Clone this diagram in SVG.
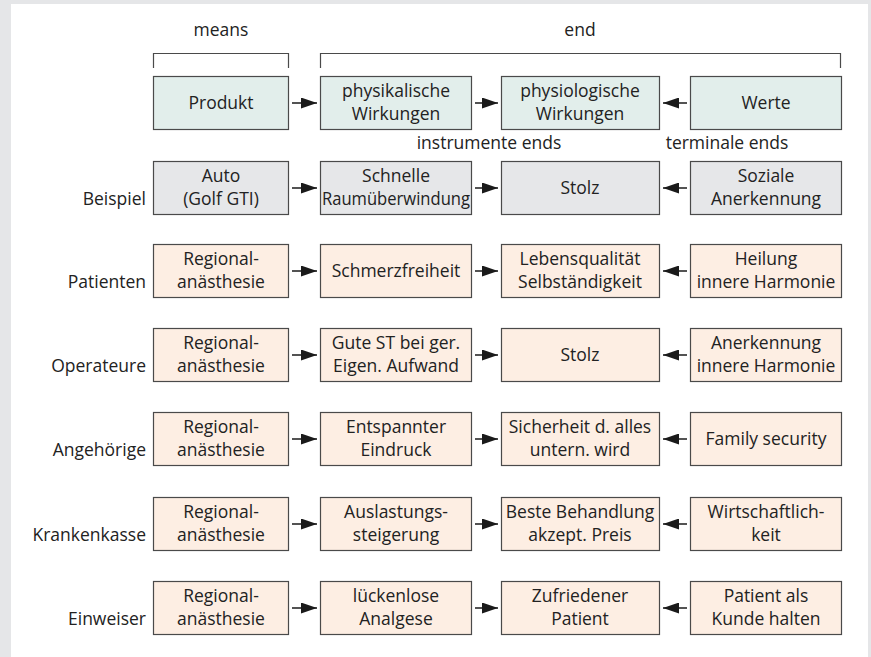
<svg xmlns="http://www.w3.org/2000/svg" width="871" height="657" viewBox="0 0 871 657">
<defs>
<marker id="ah" markerUnits="userSpaceOnUse" markerWidth="16" markerHeight="11" refX="16" refY="5.5" orient="auto">
<path d="M0,0 L16,5.5 L0,11 z" fill="#1a1a1a"/>
</marker>
</defs>
<style>
text{font-family:"Open Sans","Noto Sans","DejaVu Sans",sans-serif;font-size:17.5px;fill:#222222}
.c{text-anchor:middle}
.l{text-anchor:end}
.b rect{stroke:#4a4a4a;stroke-width:1.2}
.t rect{fill:#e2eeeb}
.g rect{fill:#e6e7e9}
.p rect{fill:#fdeee3}
.cn line{stroke:#1a1a1a;stroke-width:1.5;marker-end:url(#ah)}
.br{fill:none;stroke:#4a4a4a;stroke-width:1.2}
</style>
<rect x="0" y="0" width="871" height="657" fill="#e5e6e8"/>
<rect x="11" y="4" width="857" height="653" fill="#ffffff"/>

<g id="headers">
<text class="c" x="221" y="36">means</text>
<text class="c" x="580" y="36">end</text>
<path class="br" d="M153.5,68 V53.5 H288.5 V68"/>
<path class="br" d="M320.5,68 V53.5 H840.5 V68"/>
<text class="c" x="489" y="149">instrumente ends</text>
<text class="c" x="727" y="149">terminale ends</text>
</g>

<g id="row-labels">
<text class="l" x="146" y="205">Beispiel</text>
<text class="l" x="146" y="288">Patienten</text>
<text class="l" x="146" y="372">Operateure</text>
<text class="l" x="146" y="456">Angehörige</text>
<text class="l" x="146" y="541">Krankenkasse</text>
<text class="l" x="146" y="625">Einweiser</text>
</g>

<!-- Row 1 -->
<g id="r1c1" class="b t"><rect x="153.5" y="76.5" width="135" height="53"/><text class="c" x="221" y="109">Produkt</text></g>
<g id="r1c2" class="b t"><rect x="320.5" y="76.5" width="151" height="53"/><text class="c" x="396" y="97">physikalische</text><text class="c" x="396" y="120">Wirkungen</text></g>
<g id="r1c3" class="b t"><rect x="501.5" y="76.5" width="158" height="53"/><text class="c" x="580" y="97">physiologische</text><text class="c" x="580" y="120">Wirkungen</text></g>
<g id="r1c4" class="b t"><rect x="690.5" y="76.5" width="151" height="53"/><text class="c" x="766" y="109">Werte</text></g>

<!-- Row 2 -->
<g id="r2c1" class="b g"><rect x="153.5" y="161.5" width="135" height="53"/><text class="c" x="221" y="182">Auto</text><text class="c" x="221" y="205">(Golf GTI)</text></g>
<g id="r2c2" class="b g"><rect x="320.5" y="161.5" width="151" height="53"/><text class="c" x="396" y="182">Schnelle</text><text class="c" x="396" y="205" textLength="148" lengthAdjust="spacingAndGlyphs">Raumüberwindung</text></g>
<g id="r2c3" class="b g"><rect x="501.5" y="161.5" width="158" height="53"/><text class="c" x="580" y="194">Stolz</text></g>
<g id="r2c4" class="b g"><rect x="690.5" y="161.5" width="151" height="53"/><text class="c" x="766" y="182">Soziale</text><text class="c" x="766" y="205">Anerkennung</text></g>

<!-- Row 3 -->
<g id="r3c1" class="b p"><rect x="153.5" y="244.5" width="135" height="53"/><text class="c" x="221" y="265">Regional-</text><text class="c" x="221" y="288">anästhesie</text></g>
<g id="r3c2" class="b p"><rect x="320.5" y="244.5" width="151" height="53"/><text class="c" x="396" y="277">Schmerzfreiheit</text></g>
<g id="r3c3" class="b p"><rect x="501.5" y="244.5" width="158" height="53"/><text class="c" x="580" y="265">Lebensqualität</text><text class="c" x="580" y="288">Selbständigkeit</text></g>
<g id="r3c4" class="b p"><rect x="690.5" y="244.5" width="151" height="53"/><text class="c" x="766" y="265">Heilung</text><text class="c" x="766" y="288">innere Harmonie</text></g>

<!-- Row 4 -->
<g id="r4c1" class="b p"><rect x="153.5" y="328.5" width="135" height="53"/><text class="c" x="221" y="349">Regional-</text><text class="c" x="221" y="372">anästhesie</text></g>
<g id="r4c2" class="b p"><rect x="320.5" y="328.5" width="151" height="53"/><text class="c" x="396" y="349">Gute ST bei ger.</text><text class="c" x="396" y="372">Eigen. Aufwand</text></g>
<g id="r4c3" class="b p"><rect x="501.5" y="328.5" width="158" height="53"/><text class="c" x="580" y="361">Stolz</text></g>
<g id="r4c4" class="b p"><rect x="690.5" y="328.5" width="151" height="53"/><text class="c" x="766" y="349">Anerkennung</text><text class="c" x="766" y="372">innere Harmonie</text></g>

<!-- Row 5 -->
<g id="r5c1" class="b p"><rect x="153.5" y="412.5" width="135" height="53"/><text class="c" x="221" y="433">Regional-</text><text class="c" x="221" y="456">anästhesie</text></g>
<g id="r5c2" class="b p"><rect x="320.5" y="412.5" width="151" height="53"/><text class="c" x="396" y="433">Entspannter</text><text class="c" x="396" y="456">Eindruck</text></g>
<g id="r5c3" class="b p"><rect x="501.5" y="412.5" width="158" height="53"/><text class="c" x="580" y="433">Sicherheit d. alles</text><text class="c" x="580" y="456">untern. wird</text></g>
<g id="r5c4" class="b p"><rect x="690.5" y="412.5" width="151" height="53"/><text class="c" x="766" y="445">Family security</text></g>

<!-- Row 6 -->
<g id="r6c1" class="b p"><rect x="153.5" y="497.5" width="135" height="53"/><text class="c" x="221" y="518">Regional-</text><text class="c" x="221" y="541">anästhesie</text></g>
<g id="r6c2" class="b p"><rect x="320.5" y="497.5" width="151" height="53"/><text class="c" x="396" y="518">Auslastungs-</text><text class="c" x="396" y="541">steigerung</text></g>
<g id="r6c3" class="b p"><rect x="501.5" y="497.5" width="158" height="53"/><text class="c" x="580" y="518">Beste Behandlung</text><text class="c" x="580" y="541">akzept. Preis</text></g>
<g id="r6c4" class="b p"><rect x="690.5" y="497.5" width="151" height="53"/><text class="c" x="766" y="518">Wirtschaftlich-</text><text class="c" x="766" y="541">keit</text></g>

<!-- Row 7 -->
<g id="r7c1" class="b p"><rect x="153.5" y="581.5" width="135" height="53"/><text class="c" x="221" y="602">Regional-</text><text class="c" x="221" y="625">anästhesie</text></g>
<g id="r7c2" class="b p"><rect x="320.5" y="581.5" width="151" height="53"/><text class="c" x="396" y="602">lückenlose</text><text class="c" x="396" y="625">Analgese</text></g>
<g id="r7c3" class="b p"><rect x="501.5" y="581.5" width="158" height="53"/><text class="c" x="580" y="602">Zufriedener</text><text class="c" x="580" y="625">Patient</text></g>
<g id="r7c4" class="b p"><rect x="690.5" y="581.5" width="151" height="53"/><text class="c" x="766" y="602">Patient als</text><text class="c" x="766" y="625">Kunde halten</text></g>

<g id="connectors" class="cn">
<line x1="292" y1="103" x2="317" y2="103"/><line x1="475" y1="103" x2="498" y2="103"/><line x1="687" y1="103" x2="663" y2="103"/>
<line x1="292" y1="188" x2="317" y2="188"/><line x1="475" y1="188" x2="498" y2="188"/><line x1="687" y1="188" x2="663" y2="188"/>
<line x1="292" y1="271" x2="317" y2="271"/><line x1="475" y1="271" x2="498" y2="271"/><line x1="687" y1="271" x2="663" y2="271"/>
<line x1="292" y1="355" x2="317" y2="355"/><line x1="475" y1="355" x2="498" y2="355"/><line x1="687" y1="355" x2="663" y2="355"/>
<line x1="292" y1="439" x2="317" y2="439"/><line x1="475" y1="439" x2="498" y2="439"/><line x1="687" y1="439" x2="663" y2="439"/>
<line x1="292" y1="524" x2="317" y2="524"/><line x1="475" y1="524" x2="498" y2="524"/><line x1="687" y1="524" x2="663" y2="524"/>
<line x1="292" y1="608" x2="317" y2="608"/><line x1="475" y1="608" x2="498" y2="608"/><line x1="687" y1="608" x2="663" y2="608"/>
</g>
</svg>
